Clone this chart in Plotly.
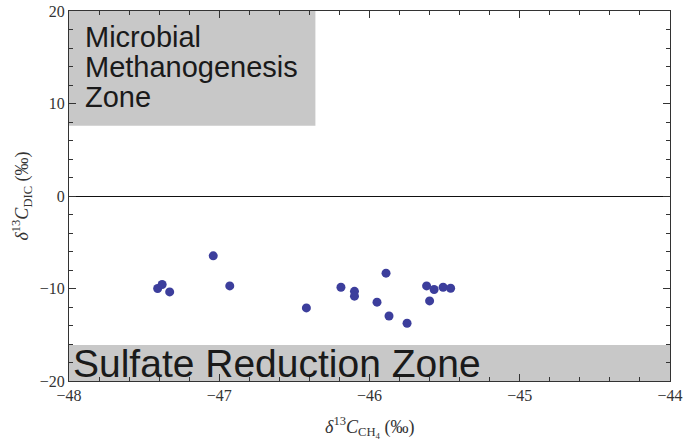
import plotly.graph_objects as go

# Data
d13c_ch4 = [-47.41, -47.38, -47.33, -47.04, -46.93, -46.42, -46.19, -46.10, -46.10,
            -45.95, -45.89, -45.87, -45.75, -45.62, -45.57, -45.60, -45.51, -45.46]
d13c_dic = [-10.0, -9.57, -10.37, -6.47, -9.72, -12.10, -9.86, -10.31, -10.83,
            -11.48, -8.34, -12.97, -13.76, -9.72, -10.11, -11.34, -9.86, -9.97]

x_ticks = [-48, -47, -46, -45, -44]
y_ticks = [-20, -10, 0, 10, 20]

methano_lines = ["Microbial", "Methanogenesis", "Zone"]
methano_zone = dict(x0=-48, x1=-46.36, y0=7.6, y1=20)
sulfate_zone = dict(x0=-48, x1=-44, y0=-20, y1=-16.1)

fig = go.Figure()
fig.add_trace(go.Scatter(
    x=d13c_ch4, y=d13c_dic, mode="markers",
    marker=dict(color="#3c3e9c", size=9, line=dict(width=0)),
    showlegend=False,
))

for z in (methano_zone, sulfate_zone):
    fig.add_shape(type="rect", xref="x", yref="y", layer="below",
                  fillcolor="#c8c8c8", line=dict(width=0), **z)

line_y = [17.15, 13.95, 10.7]
for txt, yy in zip(methano_lines, line_y):
    fig.add_annotation(x=-47.91, y=yy, xref="x", yref="y", xanchor="left", yanchor="middle",
                       text=txt, showarrow=False, align="left",
                       font=dict(family="Liberation Sans, Arial", size=29, color="#1a1a1a"))
fig.add_annotation(x=-47.99, y=-18.15, xref="x", yref="y", xanchor="left", yanchor="middle",
                   text="Sulfate Reduction Zone", showarrow=False, align="left",
                   font=dict(family="Liberation Sans, Arial", size=39, color="#1a1a1a"))

title_font = dict(family="Liberation Serif, Times New Roman", size=18, color="#333333")
fig.add_annotation(x=0.5, y=-0.125, xref="paper", yref="paper", xanchor="center", yanchor="middle",
                   text="<i>δ</i><sup>13</sup><i>C</i><sub>CH<sub>4</sub></sub> (‰)",
                   showarrow=False, font=title_font)

tickfont = dict(family="Liberation Serif, Times New Roman", size=16, color="#333333")
common = dict(showgrid=False, showline=True, linecolor="#333333", linewidth=1, mirror="ticks",
              ticks="inside", ticklen=7, tickcolor="#333333", tickfont=tickfont,
              zeroline=False, automargin=False)

fig.update_xaxes(range=[-48, -44], tickvals=x_ticks, ticktext=[f"\u2212{abs(v)}" for v in x_ticks],
                 minor=dict(ticks="inside", ticklen=4, dtick=0.2, tickcolor="#333333", showgrid=False),
                 **common)
fig.update_yaxes(range=[-20, 20], tickvals=y_ticks,
                 ticktext=[(f"\u2212{abs(v)}" if v < 0 else str(v)) for v in y_ticks],
                 minor=dict(ticks="inside", ticklen=4, dtick=2, tickcolor="#333333", showgrid=False),
                 title=dict(text="<i>δ</i><sup>13</sup><i>C</i><sub>DIC</sub> (‰)",
                            font=title_font, standoff=6),
                 **common)
fig.update_yaxes(zeroline=True, zerolinecolor="#111111", zerolinewidth=1)

fig.update_layout(width=685, height=444, margin=dict(l=69, r=15, t=11, b=63),
                  plot_bgcolor="white", paper_bgcolor="white")

# remove the page's default 8px body margin so the figure sits at the window's corner
fig.write_html("out.html", config={"displayModeBar": False},
               post_script="document.body.style.margin='0';document.body.style.overflow='hidden';")
